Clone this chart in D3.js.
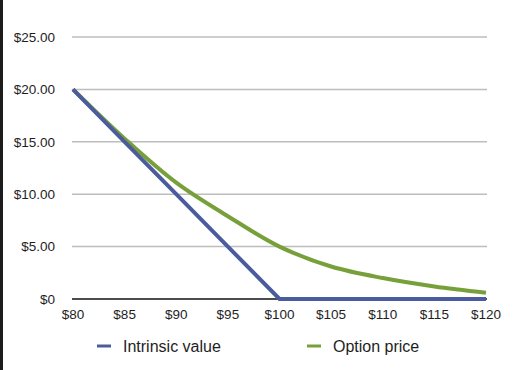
<!DOCTYPE html>
<html>
<head>
<meta charset="utf-8">
<script src="https://cdn.jsdelivr.net/npm/d3@7"></script>
<style>
  body { margin: 0; background: #fff; }
  text { font-family: "Liberation Sans", Arial, sans-serif; fill: #1e1e1e; }
</style>
</head>
<body>
<script>
const strikes = [80, 85, 90, 95, 100, 105, 110, 115, 120];
const intrinsic = [20, 15, 10, 5, 0, 0, 0, 0, 0];
const optionPrice = [20, 15.3, 11.1, 7.9, 5.0, 3.1, 2.0, 1.2, 0.6];
const yTicks = [0, 5, 10, 15, 20, 25];
const seriesNames = ["Intrinsic value", "Option price"];

const W = 513, H = 370;
const blue = "#4a5c9e", green = "#78a03a";

const svg = d3.select("body").append("svg")
  .attr("width", W)
  .attr("height", H);

// dark strip at the left edge
svg.append("rect").attr("x", 0).attr("y", 0).attr("width", 3).attr("height", H).attr("fill", "#1c1c1c");

const x = d3.scaleLinear().domain([80, 120]).range([73, 486]);
const y = d3.scaleLinear().domain([0, 25]).range([299, 37]);

// gridlines
svg.selectAll("line.grid")
  .data(yTicks.filter(d => d > 0))
  .enter()
  .append("line")
  .attr("class", "grid")
  .attr("x1", 72)
  .attr("x2", 487)
  .attr("y1", d => y(d))
  .attr("y2", d => y(d))
  .attr("stroke", "#bdbdbd")
  .attr("stroke-width", 1.5);

// baseline
svg.append("line")
  .attr("x1", 72).attr("x2", 487)
  .attr("y1", y(0)).attr("y2", y(0))
  .attr("stroke", "#111").attr("stroke-width", 1.5);

// y labels
svg.selectAll("text.ylab")
  .data(yTicks)
  .enter()
  .append("text")
  .attr("class", "ylab")
  .attr("x", 55)
  .attr("y", d => y(d))
  .attr("dy", "0.35em")
  .attr("text-anchor", "end")
  .style("font-size", "13.5px")
  .text(d => d === 0 ? "$0" : "$" + d.toFixed(2));

// x labels
svg.selectAll("text.xlab")
  .data(strikes)
  .enter()
  .append("text")
  .attr("class", "xlab")
  .attr("x", d => x(d))
  .attr("y", 319)
  .attr("text-anchor", "middle")
  .style("font-size", "13.5px")
  .text(d => "$" + d);

const lineStraight = d3.line()
  .x((d, i) => x(strikes[i]))
  .y(d => y(d));

const lineSmooth = d3.line()
  .x((d, i) => x(strikes[i]))
  .y(d => y(d))
  .curve(d3.curveCatmullRom.alpha(0.5));

svg.append("path")
  .datum(optionPrice)
  .attr("d", lineSmooth)
  .attr("fill", "none")
  .attr("stroke", green)
  .attr("stroke-width", 4);

svg.append("path")
  .datum(intrinsic)
  .attr("d", lineStraight)
  .attr("fill", "none")
  .attr("stroke", blue)
  .attr("stroke-width", 4);

// legend
const legend = [
  { name: seriesNames[0], color: blue, x: 97 },
  { name: seriesNames[1], color: green, x: 307 }
];

const lg = svg.selectAll("g.legend")
  .data(legend)
  .enter()
  .append("g")
  .attr("class", "legend")
  .attr("transform", d => `translate(${d.x}, 346)`);

lg.append("line")
  .attr("x1", 0).attr("x2", 14)
  .attr("y1", 0).attr("y2", 0)
  .attr("stroke", d => d.color)
  .attr("stroke-width", 3);

lg.append("text")
  .attr("x", 26)
  .attr("y", 0)
  .attr("dy", "0.35em")
  .style("font-size", "16px")
  .text(d => d.name);
</script>
</body>
</html>
